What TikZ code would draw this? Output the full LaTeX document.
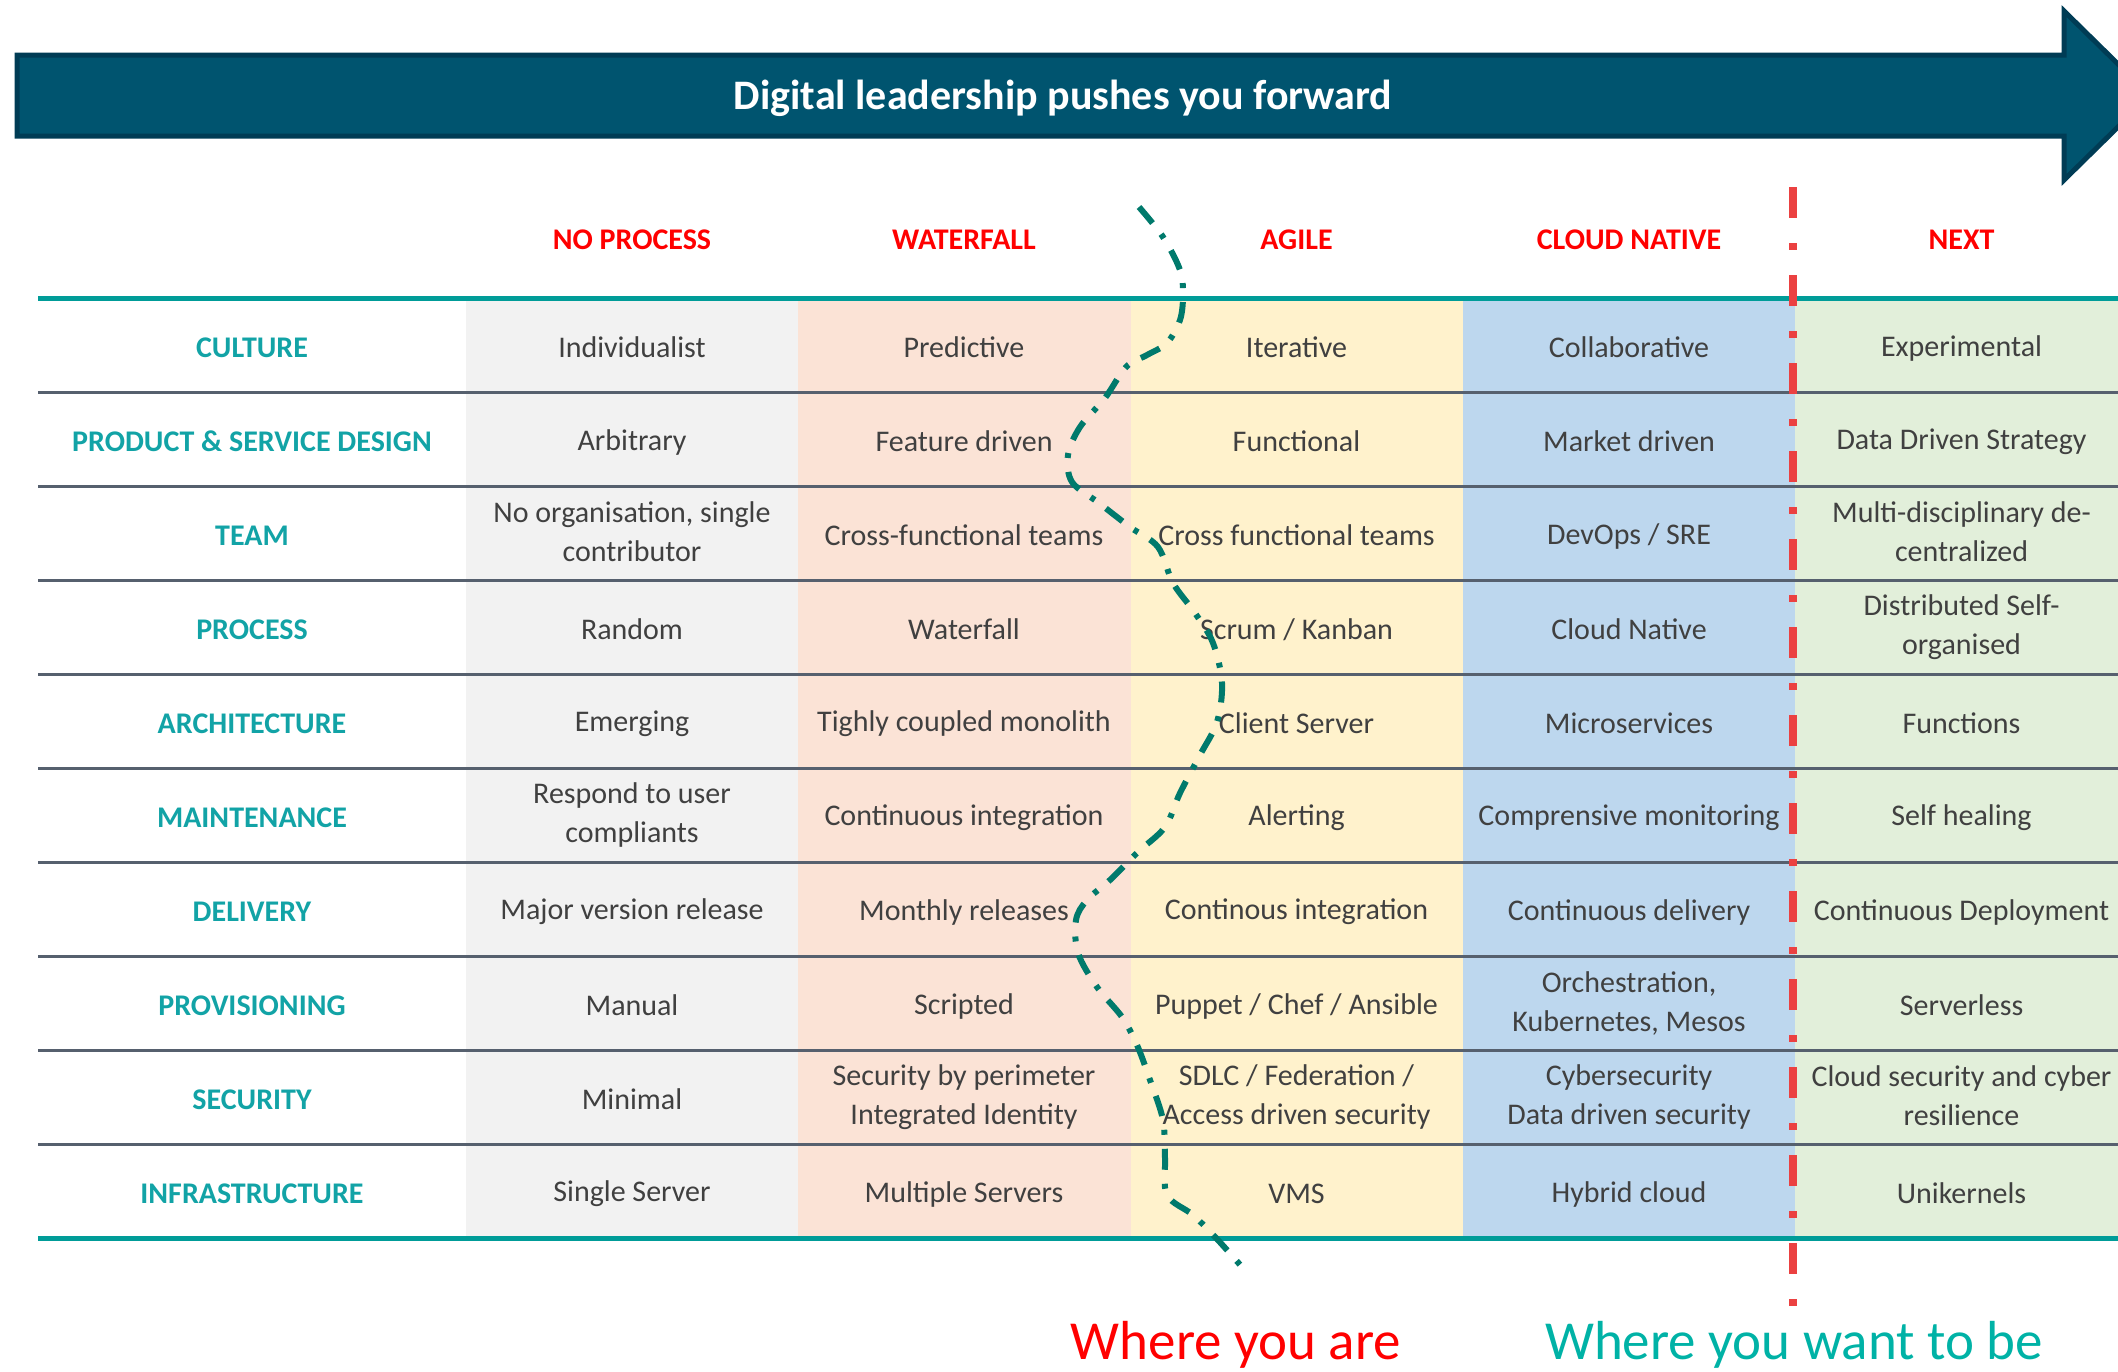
\documentclass[tikz,border=0pt]{standalone}
\usepackage{fontspec}
\setmainfont{Carlito}
\definecolor{arrowfill}{HTML}{00546F}
\definecolor{arrowedge}{HTML}{003C55}
\definecolor{celltext}{HTML}{404040}
\definecolor{labteal}{HTML}{12A3A6}
\definecolor{headred}{HTML}{FF0000}
\definecolor{tealline}{HTML}{009C98}
\definecolor{rowline}{HTML}{56606E}
\definecolor{cgray}{HTML}{F2F2F2}
\definecolor{cpeach}{HTML}{FBE3D6}
\definecolor{cyellow}{HTML}{FFF2CC}
\definecolor{cblue}{HTML}{BDD7EE}
\definecolor{cgreen}{HTML}{E2EFDA}
\definecolor{redline}{HTML}{EB4141}
\definecolor{curvegreen}{HTML}{007A6C}
\definecolor{wantteal}{HTML}{00B2A6}
\newcommand\cellstrut{\rule[-3pt]{0pt}{30pt}}
\newcommand\mkrow[7]{%
  \pgfmathsetmacro\ry{298+94*(#1-0.5)}%
  \node[rowlab] (l#1) at (252,\ry) {#2};%
  \node[cell] (a#1) at (632,\ry) {#3};%
  \node[cell] (b#1) at (964,\ry) {#4};%
  \node[cell] (c#1) at (1296.5,\ry) {#5};%
  \node[cell] (d#1) at (1629,\ry) {#6};%
  \node[cell] (e#1) at (1961.5,\ry) {#7};%
}
\begin{document}
\begin{tikzpicture}[x=1pt,y=-1pt,
  cell/.style={align=center,text=celltext,inner sep=0pt,font=\fontsize{30}{39}\selectfont,
    execute at begin node=\cellstrut,execute at end node=\cellstrut},
  rowlab/.style={cell,text=labteal,font=\bfseries\fontsize{30}{39}\selectfont},
  colhead/.style={text=headred,inner sep=0pt,anchor=base,font=\bfseries\fontsize{30}{39}\selectfont},
  sepline/.style={draw=rowline,line width=3pt},
  tline/.style={draw=tealline,line width=5pt},
  curve/.style={draw=curvegreen,line width=6pt,dash pattern=on 21pt off 14pt on 5pt off 14pt},
  redcut/.style={draw=redline,line width=8pt,dash pattern=on 31pt off 25pt on 7pt off 25pt},
  bigtext/.style={inner sep=0pt,anchor=base,font=\fontsize{55}{60}\selectfont}
]
\useasboundingbox (0,0) rectangle (2118,1371);
\clip (0,0) rectangle (2118,1371);
% title arrow
\fill[arrowfill,draw=arrowedge,line width=5pt,line join=miter]
  (17,55) -- (2064,55) -- (2064,11) -- (2150,95.5) -- (2064,180) -- (2064,136) -- (17,136) -- cycle;
\node[text=white,font=\bfseries\fontsize{42}{50}\selectfont,inner sep=0pt,anchor=base] (title) at (1063,109) {Digital leadership pushes you forward};
% column fills
\fill[cgray]   (466,298) rectangle (798,1238);
\fill[cpeach]  (798,298) rectangle (1130.5,1238);
\fill[cyellow] (1130.5,298) rectangle (1463,1238);
\fill[cblue]   (1463,298) rectangle (1795,1238);
\fill[cgreen]  (1795,298) rectangle (2128,1238);
% separators
\foreach \k in {1,...,9}{
  \draw[sepline] (38,298+94*\k) -- (2118,298+94*\k);
}
\draw[tline] (38,298) -- (2118,298);
\draw[tline] (38,1238) -- (2118,1238);
% headers
\node[colhead] (h1) at (632,249) {NO PROCESS};
\node[colhead] (h2) at (964,249) {WATERFALL};
\node[colhead] (h3) at (1296.5,249) {AGILE};
\node[colhead] (h4) at (1629,249) {CLOUD NATIVE};
\node[colhead] (h5) at (1961.5,249) {NEXT};
% rows
\mkrow{1}{CULTURE}{Individualist}{Predictive}{Iterative}{Collaborative}{Experimental}
\mkrow{2}{PRODUCT \& SERVICE DESIGN}{Arbitrary}{Feature driven}{Functional}{Market driven}{Data Driven Strategy}
\mkrow{3}{TEAM}{No organisation, single\\contributor}{Cross-functional teams}{Cross functional teams}{DevOps / SRE}{Multi-disciplinary de-\\centralized}
\mkrow{4}{PROCESS}{Random}{Waterfall}{Scrum / Kanban}{Cloud Native}{Distributed Self-\\organised}
\mkrow{5}{ARCHITECTURE}{Emerging}{Tighly coupled monolith}{Client Server}{Microservices}{Functions}
\mkrow{6}{MAINTENANCE}{Respond to user\\compliants}{Continuous integration}{Alerting}{Comprensive monitoring}{Self healing}
\mkrow{7}{DELIVERY}{Major version release}{Monthly releases}{Continous integration}{Continuous delivery}{Continuous Deployment}
\mkrow{8}{PROVISIONING}{Manual}{Scripted}{Puppet / Chef / Ansible}{Orchestration,\\Kubernetes, Mesos}{Serverless}
\mkrow{9}{SECURITY}{Minimal}{Security by perimeter\\Integrated Identity}{SDLC / Federation /\\Access driven security}{Cybersecurity\\Data driven security}{Cloud security and cyber\\resilience}
\mkrow{10}{INFRASTRUCTURE}{Single Server}{Multiple Servers}{VMS}{Hybrid cloud}{Unikernels}
% red cut line
\coordinate (rtop) at (1793,187);
\coordinate (rbot) at (1793,1307);
\draw[redcut] (rtop) -- (rbot);
% green wavy boundary
\draw[curve,line cap=butt] plot[smooth,tension=0.55] coordinates {
 (1139,207) (1163,237) (1180,270) (1183,295) (1180,320) (1167,343) (1147,355)
 (1126,367) (1105,398) (1080,427) (1068,455) (1072,482) (1099,503) (1130,527)
 (1158,547) (1173,583) (1195,613) (1213,643) (1222,683) (1217,722) (1200,755)
 (1180,793) (1165,827) (1138,852) (1110,880) (1087,900) (1076,920) (1078,953)
 (1097,987) (1122,1017) (1137,1045) (1150,1080) (1163,1120) (1165,1158)
 (1167,1195) (1193,1215) (1217,1239) (1242,1267)};
% bottom captions
\node[bigtext,text=headred] (here) at (1236,1359) {Where you are};
\node[bigtext,text=wantteal] (want) at (1794,1359) {Where you want to be};
\end{tikzpicture}
\end{document}
